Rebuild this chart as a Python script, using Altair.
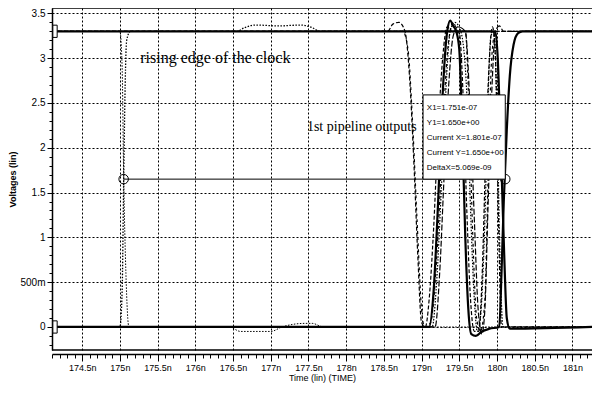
import altair as alt
import pandas as pd

SANS = "Liberation Sans, Arial, sans-serif"
SERIF = "Liberation Serif, Times New Roman, serif"

T_DOMAIN = [174.1, 181.26]
V_DOMAIN = [-0.257, 3.56]

# tick positions (major every 0.5, minor every 0.1)
x_ticks = [round(174.1 + 0.1 * i, 1) for i in range(72)]
y_ticks = [round(-0.2 + 0.1 * i, 1) for i in range(38)]

# --- waveforms (time in ns, voltage in V) ---
clock_t = [174.10, 175.00, 175.03, 175.05, 175.07, 175.09, 175.14, 176.55, 176.65, 176.80, 177.10, 177.40, 177.55, 177.65, 181.26]
clock_v = [0.00, 0.00, 0.40, 1.60, 2.70, 3.20, 3.30, 3.30, 3.34, 3.37, 3.36, 3.37, 3.34, 3.30, 3.30]

clkb_t = [174.10, 175.00, 175.03, 175.05, 175.08, 175.12, 176.45, 176.60, 177.00, 177.15, 177.45, 177.55, 177.70, 181.26]
clkb_v = [3.30, 3.30, 2.90, 1.70, 0.60, 0.00, 0.00, -0.05, -0.05, 0.00, 0.04, 0.04, 0.00, 0.00]

o1_t = [174.10, 178.55, 178.62, 178.70, 178.78, 178.84, 178.90, 178.95, 179.00, 179.05, 179.10, 179.16, 179.22, 179.28, 179.34, 179.40, 179.50, 179.55, 179.60, 179.65, 179.70, 179.76, 179.80, 179.85, 179.90, 179.94, 179.98, 180.02, 180.06, 181.26]
o1_v = [3.30, 3.30, 3.38, 3.40, 3.30, 2.80, 1.80, 0.80, 0.05, 0.00, 0.30, 1.10, 2.20, 3.00, 3.35, 3.30, 3.28, 2.60, 1.30, 0.30, -0.05, -0.05, 0.50, 1.90, 3.00, 3.35, 3.00, 1.20, 0.00, 0.00]

o2_t = [174.10, 178.75, 178.82, 178.88, 178.94, 179.00, 179.04, 179.12, 179.18, 179.24, 179.30, 179.36, 179.42, 179.48, 179.58, 179.63, 179.68, 179.73, 179.78, 179.84, 179.88, 179.93, 179.98, 181.26]
o2_v = [3.30, 3.30, 3.10, 2.30, 1.20, 0.20, 0.00, 0.05, 0.50, 1.40, 2.50, 3.20, 3.40, 3.30, 3.30, 2.40, 1.00, 0.10, -0.05, 0.30, 1.60, 3.00, 3.30, 3.30]

o3_t = [174.10, 179.10, 179.16, 179.22, 179.28, 179.34, 179.38, 179.42, 179.46, 179.50, 179.54, 179.58, 179.62, 179.66, 179.72, 179.80, 179.90, 180.03, 180.06, 180.09, 180.13, 180.17, 180.22, 180.28, 180.34, 181.26]
o3_v = [0.00, 0.00, 0.40, 1.40, 2.60, 3.30, 3.42, 3.36, 3.30, 3.10, 2.20, 1.00, 0.20, -0.08, -0.10, -0.05, -0.02, 0.00, 0.60, 1.40, 2.20, 2.80, 3.15, 3.28, 3.30, 3.30]

o4_t = [174.10, 179.14, 179.20, 179.26, 179.32, 179.38, 179.44, 179.52, 179.60, 179.65, 179.70, 179.74, 179.78, 179.84, 179.88, 179.92, 179.96, 180.00, 180.04, 180.08, 181.26]
o4_v = [0.00, 0.00, 0.50, 1.50, 2.60, 3.30, 3.40, 3.30, 2.60, 1.30, 0.30, -0.05, 0.10, 1.20, 2.50, 3.25, 3.30, 2.40, 0.80, 0.00, 0.00]

o5_t = [174.10, 179.98, 180.01, 180.04, 180.07, 180.10, 180.13, 180.17, 181.26]
o5_v = [3.30, 3.30, 3.00, 2.30, 1.50, 0.70, 0.10, -0.02, 0.00]

o6_t = [174.10, 179.18, 179.24, 179.30, 179.36, 179.42, 179.48, 179.58, 179.64, 179.70, 179.75, 179.80, 179.84, 179.88, 179.93, 179.98, 180.03, 180.09, 181.26]
o6_v = [0.00, 0.00, 0.60, 1.70, 2.70, 3.25, 3.35, 3.30, 2.50, 1.20, 0.20, -0.08, 0.20, 1.30, 2.60, 3.30, 3.36, 3.30, 3.30]

# cursor
cursor_t = [175.05, 180.11]
cursor_v = [1.65, 1.65]

# trace start markers
marker_t = [174.14, 174.14]
marker_v = [3.30, 0.00]

# measurement box
box_t = [179.02, 180.11]
box_v = [1.65, 2.59]
box_lines = ["X1=1.751e-07", "Y1=1.650e+00", "Current X=1.801e-07", "Current Y=1.650e+00", "DeltaX=5.069e-09"]
box_text_t = [179.07] * 5
box_text_v = [2.444, 2.277, 2.109, 1.942, 1.775]

notes = ["rising edge of the clock", "1st pipeline outputs"]
notes_t = [175.27, 177.48]
notes_v = [2.946, 2.19]
notes_size = [16, 14]

MAJ = "abs(datum.value*2 - round(datum.value*2)) < 0.001"

xs = alt.Scale(domain=T_DOMAIN, nice=False, zero=False)
ys = alt.Scale(domain=V_DOMAIN, nice=False, zero=False)

x_axis = alt.Axis(
    values=x_ticks, orient="bottom", offset=4,
    domainColor="black", domainWidth=1.5,
    tickColor="black", tickWidth=1,
    tickSize={"condition": {"test": MAJ, "value": 7}, "value": 4},
    labelExpr=MAJ + " ? (datum.value + 'n') : ''",
    labelFont=SANS, labelFontSize=9, labelColor="black", labelPadding=2,
    labelOverlap=False, labelFlush=False,
    grid=True, gridColor="black", gridDash=[2, 2], gridWidth=1,
    gridOpacity={"condition": {"test": MAJ, "value": 1}, "value": 0},
    title="Time (lin) (TIME)", titleFont=SANS, titleFontSize=9,
    titleFontWeight="normal", titleColor="black", titlePadding=1,
)
y_axis = alt.Axis(
    values=y_ticks, orient="left",
    domainColor="black", domainWidth=1.5,
    tickColor="black", tickWidth=1,
    tickSize={"condition": {"test": MAJ, "value": 5}, "value": 3},
    labelExpr=MAJ + " ? (abs(datum.value - 0.5) < 0.001 ? '500m' : datum.value + '') : ''",
    labelFont=SANS, labelFontSize=10, labelColor="black", labelPadding=2,
    labelOverlap=False, labelFlush=False,
    grid=True, gridColor="black", gridDash=[2, 2], gridWidth=1,
    gridOpacity={"condition": {"test": MAJ, "value": 1}, "value": 0},
    title="Voltages (lin)", titleFont=SANS, titleFontSize=9,
    titleFontWeight="bold", titleColor="black", titlePadding=2,
)

X = lambda f: alt.X(f, scale=xs, axis=x_axis)
Y = lambda f: alt.Y(f, scale=ys, axis=y_axis)


def trace(ts, vs, dash=None, width=1.2):
    df = pd.DataFrame({"t": ts, "v": vs, "i": list(range(len(ts)))})
    kw = dict(color="black", strokeWidth=width, interpolate="monotone")
    if dash:
        kw["strokeDash"] = dash
    return alt.Chart(df).mark_line(**kw).encode(x=X("t:Q"), y=Y("v:Q"), order="i:Q")


layers = []

# frame lines (top and bottom edges of the plotting area)
frame_df = pd.DataFrame({"t": [T_DOMAIN[0]] * 2, "t2": [T_DOMAIN[1]] * 2, "v": V_DOMAIN})
layers.append(
    alt.Chart(frame_df).mark_rule(color="black", strokeWidth=1.5).encode(x=X("t:Q"), x2="t2:Q", y=Y("v:Q"))
)

layers += [
    trace(clock_t, clock_v, dash=[1.5, 1.5], width=1.3),
    trace(clkb_t, clkb_v, dash=[1.5, 1.5], width=1.0),
    trace(o1_t, o1_v, dash=[4, 2]),
    trace(o2_t, o2_v, dash=[3, 3]),
    trace(o4_t, o4_v, dash=[1.5, 1.5]),
    trace(o6_t, o6_v, dash=[6, 2]),
    trace(o3_t, o3_v, width=2.2),
    trace(o5_t, o5_v, width=2.2),
]

cur_df = pd.DataFrame({"t": [cursor_t[0]], "t2": [cursor_t[1]], "v": [cursor_v[0]]})
layers.append(
    alt.Chart(cur_df).mark_rule(color="black", strokeWidth=1).encode(x=X("t:Q"), x2="t2:Q", y=Y("v:Q"))
)
circ_df = pd.DataFrame({"t": cursor_t, "v": cursor_v})
layers.append(
    alt.Chart(circ_df).mark_point(shape="circle", size=90, filled=False, color="black", strokeWidth=1, opacity=1).encode(
        x=X("t:Q"), y=Y("v:Q")
    )
)
mk_df = pd.DataFrame({"t": marker_t, "v": marker_v})
layers.append(
    alt.Chart(mk_df).mark_point(
        shape="M -0.35 -1 L 0.35 -1 L 0.35 1 L -0.35 1 Z", size=150,
        filled=True, fill="white", stroke="black", strokeWidth=1, opacity=1,
    ).encode(x=X("t:Q"), y=Y("v:Q"))
)
box_df = pd.DataFrame({"t": [box_t[0]], "t2": [box_t[1]], "v": [box_v[0]], "v2": [box_v[1]]})
layers.append(
    alt.Chart(box_df).mark_rect(fill="white", stroke="black", strokeWidth=1).encode(
        x=X("t:Q"), x2="t2:Q", y=Y("v:Q"), y2="v2:Q",
    )
)
bt_df = pd.DataFrame({"t": box_text_t, "v": box_text_v, "s": box_lines})
layers.append(
    alt.Chart(bt_df).mark_text(align="left", baseline="middle", font=SANS, fontSize=8, color="black").encode(
        x=X("t:Q"), y=Y("v:Q"), text="s:N"
    )
)
nt_df = pd.DataFrame({"t": notes_t, "v": notes_v, "s": notes})
for k in range(2):
    layers.append(
        alt.Chart(nt_df.iloc[[k]]).mark_text(
            align="left", baseline="alphabetic", font=SERIF, fontSize=notes_size[k], color="black"
        ).encode(x=X("t:Q"), y=Y("v:Q"), text="s:N")
    )

chart = alt.layer(*layers).properties(
    width=540, height=342,
    padding={"left": 44, "top": 0, "right": 0, "bottom": 34},
    autosize=alt.AutoSizeParams(type="none"),
    background="white",
).configure_view(stroke=None)

chart.save("out.html", embed_options={"renderer": "svg", "actions": False})
